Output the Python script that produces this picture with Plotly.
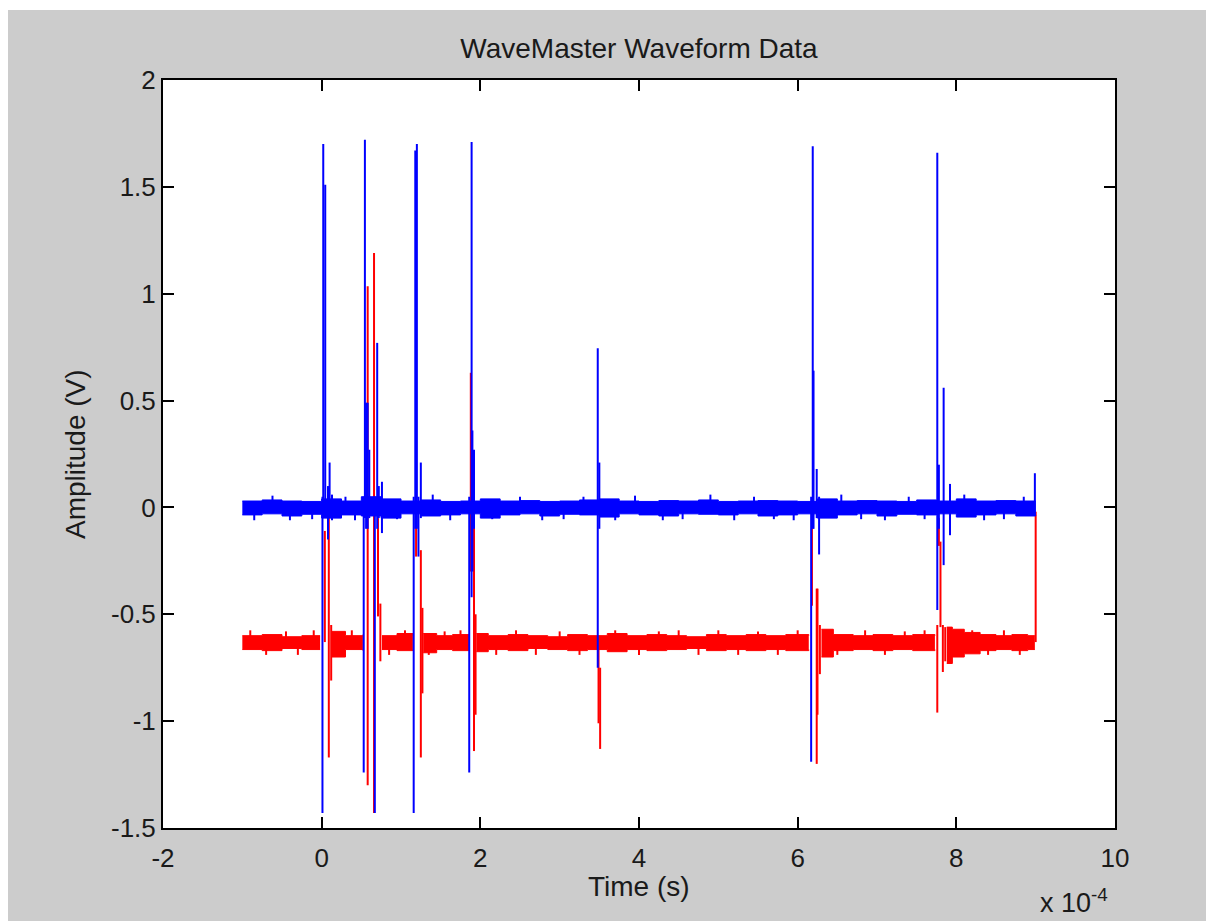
import plotly.graph_objects as go

# ---------------- data (time in units of 1e-4 s, amplitude in V) ----------------
# Blue channel: noise band envelope
blue_band_x = [-1.0, -0.75, -0.5, -0.25, 0.0, 0.25, 0.5, 0.75, 1.0, 1.25, 1.5, 1.75, 2.0, 2.25,
               2.5, 2.75, 3.0, 3.25, 3.5, 3.75, 4.0, 4.25, 4.5, 4.75, 5.0, 5.25, 5.5, 5.75, 6.0,
               6.25, 6.5, 6.75, 7.0, 7.25, 7.5, 7.75, 8.0, 8.25, 8.5, 8.75, 9.0]
blue_band_hi = [0.03, 0.035, 0.03, 0.028, 0.04, 0.03, 0.05, 0.04, 0.03, 0.035, 0.028, 0.03, 0.04, 0.03,
                0.032, 0.028, 0.03, 0.035, 0.04, 0.03, 0.028, 0.032, 0.03, 0.035, 0.028, 0.03, 0.032,
                0.03, 0.028, 0.04, 0.03, 0.032, 0.03, 0.028, 0.035, 0.03, 0.04, 0.03, 0.032, 0.03, 0.03]
blue_band_lo = [-0.035, -0.03, -0.04, -0.032, -0.05, -0.035, -0.04, -0.05, -0.03, -0.04, -0.035, -0.03,
                -0.05, -0.035, -0.03, -0.04, -0.032, -0.035, -0.045, -0.03, -0.035, -0.04, -0.03,
                -0.032, -0.035, -0.03, -0.04, -0.035, -0.03, -0.05, -0.035, -0.03, -0.04, -0.032,
                -0.035, -0.03, -0.045, -0.035, -0.03, -0.04, -0.035]
# Blue channel: small outliers (time, tip value)
blue_tick_x = [-0.85, -0.62, -0.4, -0.12, 0.3, 0.42, 0.95, 1.4, 1.62, 2.15, 2.5, 2.78, 3.05, 3.3,
               3.7, 3.95, 4.3, 4.55, 4.9, 5.2, 5.45, 5.7, 5.95, 6.55, 6.8, 7.1, 7.4, 7.6, 8.1, 8.35,
               8.6, 8.85]
blue_tick_tip = [-0.06, 0.055, -0.06, -0.055, 0.05, -0.06, -0.055, 0.06, -0.06, -0.055, 0.05, -0.06,
                 -0.055, 0.05, -0.06, 0.055, -0.06, -0.055, 0.06, -0.06, 0.05, -0.055, -0.06, 0.06,
                 -0.055, -0.06, 0.05, -0.055, 0.06, -0.06, -0.055, 0.05]
# Blue channel: pulses (time, min, max)
blue_spike_x = [0.01, 0.02, 0.045, 0.08, 0.10, 0.13,
                0.53, 0.545, 0.56, 0.58, 0.60, 0.67, 0.70, 0.72, 0.76,
                1.16, 1.18, 1.20, 1.22, 1.25,
                1.86, 1.89, 1.90, 1.92,
                3.48, 3.50,
                6.17, 6.19, 6.20, 6.24, 6.27,
                7.76, 7.78, 7.84, 7.92,
                8.99]
blue_spike_lo = [-1.43, -0.05, 0.0, -0.15, -0.05, -0.06,
                 -1.24, -0.05, -0.10, -0.10, -0.05, -1.43, -0.10, -0.05, -0.12,
                 -1.43, -0.10, -0.10, -0.23, -0.05,
                 -1.24, -0.42, -0.30, -0.10,
                 -0.75, -0.10,
                 -1.19, -0.10, -0.10, -0.05, -0.22,
                 -0.48, -0.10, -0.27, -0.13,
                 -0.04]
blue_spike_hi = [0.05, 1.70, 1.51, 0.10, 0.21, 0.06,
                 0.05, 1.72, 0.49, 0.49, 0.27, 0.05, 0.77, 0.10, 0.12,
                 0.05, 1.67, 1.70, 0.05, 0.21,
                 0.05, 1.71, 0.36, 0.27,
                 0.745, 0.21,
                 0.05, 1.69, 0.64, 0.18, 0.05,
                 1.66, 0.20, 0.56, 0.11,
                 0.16]

# Red channel: noise band envelope (None = gap around pulses)
red_band_x = [-1.0, -0.75, -0.5, -0.25, -0.02, None,
              0.12, 0.3, 0.52, None,
              0.76, 0.95, 1.15, None,
              1.28, 1.45, 1.65, 1.86, None,
              1.95, 2.1, 2.35, 2.6, 2.85, 3.1, 3.35, 3.6, 3.85, 4.1, 4.35, 4.6, 4.85, 5.1, 5.35,
              5.6, 5.85, 6.14, None,
              6.3, 6.45, 6.7, 6.95, 7.2, 7.45, 7.73, None,
              7.88, 7.95, 8.1, 8.3, 8.5, 8.7, 8.9, 8.99]
red_band_hi = [-0.60, -0.595, -0.605, -0.60, -0.60, None,
               -0.58, -0.60, -0.595, None,
               -0.60, -0.59, -0.60, None,
               -0.59, -0.60, -0.595, -0.60, None,
               -0.59, -0.60, -0.595, -0.60, -0.605, -0.595, -0.60, -0.59, -0.60, -0.595, -0.60,
               -0.605, -0.595, -0.60, -0.595, -0.60, -0.595, -0.60, None,
               -0.57, -0.595, -0.60, -0.595, -0.60, -0.595, -0.60, None,
               -0.56, -0.57, -0.585, -0.595, -0.60, -0.595, -0.60, -0.60]
red_band_lo = [-0.665, -0.67, -0.66, -0.665, -0.665, None,
               -0.70, -0.665, -0.67, None,
               -0.665, -0.67, -0.665, None,
               -0.68, -0.665, -0.67, -0.665, None,
               -0.675, -0.665, -0.67, -0.66, -0.665, -0.67, -0.665, -0.675, -0.665, -0.67, -0.665,
               -0.66, -0.67, -0.665, -0.67, -0.665, -0.67, -0.665, None,
               -0.70, -0.67, -0.665, -0.67, -0.665, -0.67, -0.665, None,
               -0.73, -0.70, -0.685, -0.67, -0.665, -0.67, -0.665, -0.665]
red_base = -0.63
red_tick_x = [-0.9, -0.7, -0.45, -0.3, -0.1, 0.22, 0.38, 0.85, 1.05, 1.35, 1.55, 1.75, 2.2, 2.45,
              2.7, 3.0, 3.25, 3.7, 4.0, 4.25, 4.5, 4.75, 5.0, 5.25, 5.5, 5.75, 6.0, 6.5, 6.85,
              7.1, 7.35, 7.6, 8.05, 8.2, 8.4, 8.6, 8.8]
red_tick_tip = [-0.575, -0.69, -0.58, -0.69, -0.575, -0.69, -0.575, -0.69, -0.575, -0.69, -0.58,
                -0.575, -0.69, -0.575, -0.69, -0.58, -0.69, -0.575, -0.69, -0.58, -0.575, -0.69,
                -0.575, -0.69, -0.58, -0.69, -0.575, -0.69, -0.575, -0.69, -0.58, -0.575, -0.70,
                -0.575, -0.69, -0.575, -0.69]
red_spike_x = [0.04, 0.09, 0.12,
               0.58, 0.66, 0.71, 0.74,
               1.19, 1.25, 1.27,
               1.88, 1.92, 1.94,
               3.49, 3.51,
               6.18, 6.24, 6.25, 6.28,
               7.76, 7.78, 7.80, 7.83, 7.86,
               9.0]
red_spike_lo = [-0.63, -1.17, -0.81,
                -1.30, -1.43, -0.51, -0.72,
                -0.23, -1.17, -0.87,
                -0.30, -1.14, -0.97,
                -1.01, -1.13,
                -0.46, -1.20, -0.97, -0.78,
                -0.96, -0.18, -0.56, -0.77, -0.72,
                -0.63]
red_spike_hi = [-0.11, -0.01, -0.55,
                1.035, 1.19, -0.05, -0.45,
                0.03, -0.20, -0.47,
                0.63, -0.05, -0.50,
                -0.60, -0.75,
                -0.02, -0.38, -0.38, -0.55,
                -0.55, -0.05, -0.16, -0.55, -0.56,
                -0.02]

x_tick_vals = [-2, 0, 2, 4, 6, 8, 10]
x_tick_text = ["-2", "0", "2", "4", "6", "8", "10"]
y_tick_vals = [-1.5, -1, -0.5, 0, 0.5, 1, 1.5, 2]
y_tick_text = ["-1.5", "-1", "-0.5", "0", "0.5", "1", "1.5", "2"]

BLUE = "#0000FF"
RED = "#FF0000"


def segments(xs, los, his):
    px, py = [], []
    for x, lo, hi in zip(xs, los, his):
        px += [x, x, None]
        py += [lo, hi, None]
    return px, py


def split_runs(xs, lo, hi):
    runs, cur = [], ([], [], [])
    for x, a, b in zip(xs, lo, hi):
        if x is None:
            if cur[0]:
                runs.append(cur)
            cur = ([], [], [])
        else:
            cur[0].append(x)
            cur[1].append(a)
            cur[2].append(b)
    if cur[0]:
        runs.append(cur)
    return runs


def band(fig, xs, lo, hi, color):
    for rx, rlo, rhi in split_runs(xs, lo, hi):
        fig.add_trace(go.Scatter(x=rx, y=rlo, mode="lines",
                                 line=dict(color=color, width=1, shape="hv"),
                                 hoverinfo="skip", showlegend=False))
        fig.add_trace(go.Scatter(x=rx, y=rhi, mode="lines",
                                 line=dict(color=color, width=1, shape="hv"),
                                 fill="tonexty", fillcolor=color, hoverinfo="skip",
                                 showlegend=False))


fig = go.Figure()

# red channel first (blue drawn on top)
band(fig, red_band_x, red_band_lo, red_band_hi, RED)
tx, ty = segments(red_tick_x, [red_base] * len(red_tick_x), red_tick_tip)
fig.add_trace(go.Scatter(x=tx, y=ty, mode="lines", line=dict(color=RED, width=2), showlegend=False))
sx, sy = segments(red_spike_x, red_spike_lo, red_spike_hi)
fig.add_trace(go.Scatter(x=sx, y=sy, mode="lines", line=dict(color=RED, width=2), showlegend=False))

band(fig, blue_band_x, blue_band_lo, blue_band_hi, BLUE)
tx, ty = segments(blue_tick_x, [0] * len(blue_tick_x), blue_tick_tip)
fig.add_trace(go.Scatter(x=tx, y=ty, mode="lines", line=dict(color=BLUE, width=2), showlegend=False))
sx, sy = segments(blue_spike_x, blue_spike_lo, blue_spike_hi)
fig.add_trace(go.Scatter(x=sx, y=sy, mode="lines", line=dict(color=BLUE, width=2), showlegend=False))

FONT = "Liberation Sans, Arial, sans-serif"
TXT = "#1a1a1a"

axis_common = dict(showline=True, linecolor="black", linewidth=2, mirror="ticks",
                   ticks="inside", ticklen=11, tickwidth=2, tickcolor="black",
                   showgrid=False, zeroline=False,
                   tickfont=dict(family=FONT, size=26, color=TXT))

# The page body adds an 8 px offset; plot area is placed so that it lands at
# screen x 163..1115, y 80..828 as in the reference.
L, R, T, B = 155, 107, 72, 101
PW = 1214 - L - R
PH = 921 - T - B

fig.update_layout(
    width=1214, height=921,
    margin=dict(l=L, r=R, t=T, b=B, pad=0),
    paper_bgcolor="#CCCCCC", plot_bgcolor="white",
    showlegend=False,
    title=dict(text="WaveMaster Waveform Data", x=0.5, xref="paper", xanchor="center",
               y=1 - 40 / 921, yref="container", yanchor="middle",
               font=dict(family=FONT, size=28, color=TXT)),
    xaxis=dict(range=[-2, 10], tickvals=x_tick_vals, ticktext=x_tick_text,
               ticklabelstandoff=6, **axis_common),
    yaxis=dict(range=[-1.5, 2], tickvals=y_tick_vals, ticktext=y_tick_text, **axis_common),
    annotations=[
        dict(text="Time (s)", xref="paper", yref="paper", x=0.5, y=-(886 - 828) / PH,
             xanchor="center", yanchor="middle", showarrow=False,
             font=dict(family=FONT, size=28, color=TXT)),
        dict(text="Amplitude (V)", xref="paper", yref="paper", x=-(163 - 75) / PW, y=0.5,
             xanchor="center", yanchor="middle", textangle=-90, showarrow=False,
             font=dict(family=FONT, size=28, color=TXT)),
        dict(text="x 10<sup>-4</sup>", xref="paper", yref="paper", x=(1038 - 163) / PW,
             y=-(901 - 828) / PH, xanchor="left", yanchor="middle", showarrow=False,
             font=dict(family=FONT, size=27, color=TXT)),
    ],
    shapes=[
        dict(type="rect", xref="paper", yref="paper", x0=-L / PW, x1=(1214 - L) / PW,
             y0=(PH + T - 2) / PH, y1=(PH + T) / PH, fillcolor="white",
             line=dict(width=0), layer="below"),
    ],
)

fig.write_html("out.html")
